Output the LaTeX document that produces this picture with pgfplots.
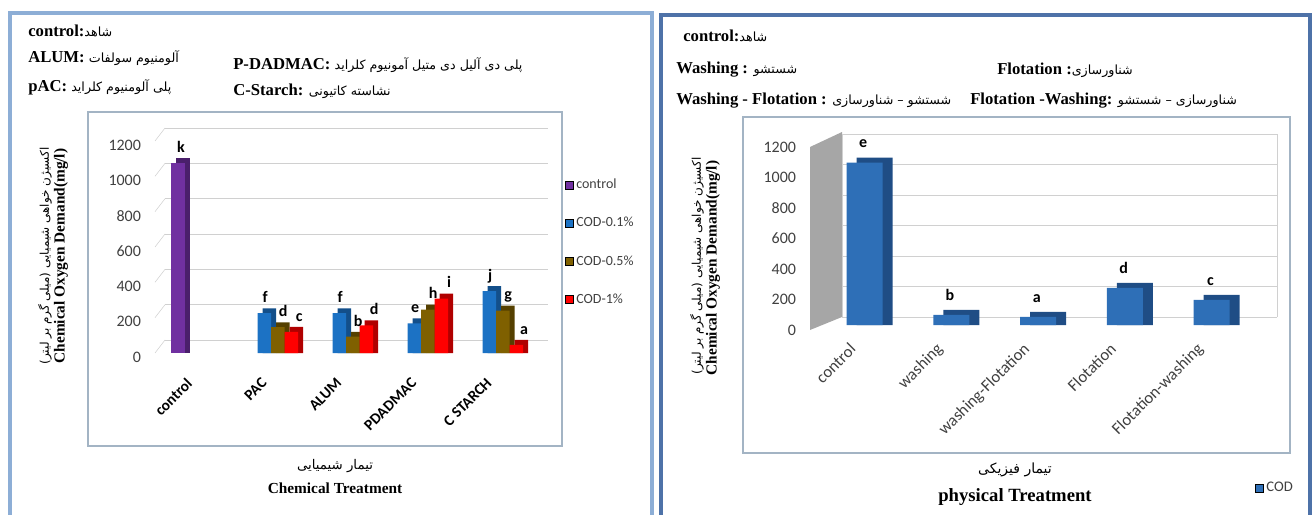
\documentclass[border=0pt]{standalone}
\usepackage{pgfplots}
\pgfplotsset{compat=1.18}
\usepackage{pgfplotstable}
\usepackage{fontspec}
\setmainfont{Liberation Serif}
\newfontfamily\calfont{Carlito}
\newfontfamily\farsi[Script=Arabic]{DejaVu Sans}
\TeXXeTstate=1
\newcommand{\FA}[1]{{\farsi\beginR #1\endR}}
\definecolor{cpur}{HTML}{7030A0}
\definecolor{cpurs}{HTML}{4A1F6B}
\definecolor{cblu}{HTML}{1C72C4}
\definecolor{cblus}{HTML}{134F8A}
\definecolor{cbrn}{HTML}{7F6000}
\definecolor{cbrns}{HTML}{554000}
\definecolor{cred}{HTML}{FF0000}
\definecolor{creds}{HTML}{B00000}
\definecolor{rblu}{HTML}{2E6FB7}
\definecolor{rblus}{HTML}{1F4D85}
\definecolor{frameL}{HTML}{8DAED6}
\definecolor{frameR}{HTML}{4E72A8}
\definecolor{boxc}{HTML}{A3B4C4}
\definecolor{gridc}{HTML}{D0D0D0}
\definecolor{wallc}{HTML}{A6A6A6}
\definecolor{txtg}{HTML}{404040}

\pgfplotstableread{
x v lab
0 1075 k
}\ctrl
\pgfplotstableread{
x v lab
1 225 f
2 225 f
3 168 e
4 350 j
}\codA
\pgfplotstableread{
x v lab
1 146 d
2 92 b
3 246 h
4 240 g
}\codB
\pgfplotstableread{
x v lab
1 120 c
2 156 d
3 308 i
4 46 a
}\codC
\pgfplotstableread{
x v lab
0 1065 e
1 66 b
2 53 a
3 244 d
4 165 c
}\phys

\pgfplotsset{
  /pgf/number format/1000 sep={},
  /pgf/number format/assume math mode=true,
}

\begin{document}
\begin{tikzpicture}[x=0.75pt,y=0.75pt]
\path[use as bounding box] (0,0) rectangle (1312,514);
% panel frames
\draw[frameL, line width=3.5pt] (10,-10) -- (10,501) -- (652,501) -- (652,-10);
\draw[frameR, line width=2.5pt] (661,-10) -- (661,499) -- (1310,499) -- (1310,-10);
% inner chart boxes
\draw[boxc, line width=0.8pt] (88,68) rectangle (562,402);
\draw[boxc, line width=0.8pt] (743,61) rectangle (1290,397);

% ---------- left chart ----------
\begin{axis}[
  at={(116.25pt,120.75pt)}, anchor=south west,
  scale only axis, width=287.25pt, height=159pt,
  xmin=-0.64, xmax=4.47, ymin=0, ymax=1200,
  ytick={0,200,400,600,800,1000,1200},
  xtick={0,1,2,3,4}, xticklabels={control,PAC,ALUM,PDADMAC,C STARCH},
  axis line style={draw=none}, major tick length=0pt,
  ymajorgrids, major grid style={gridc, xshift=7.5pt, yshift=9.75pt},
  yticklabel style={font=\calfont\fontsize{12}{12}\selectfont, text=txtg, xshift=-7pt, yshift=-3pt},
  xticklabel style={font=\calfont\bfseries\fontsize{11.5}{12}\selectfont, rotate=45, anchor=north east, xshift=-18.5pt, yshift=0pt},
  clip=false,
  bar width=10.125pt,
  point meta=explicit symbolic,
  every node near coord/.append style={font=\calfont\bfseries\fontsize{12}{12}\selectfont, anchor=base, inner sep=0pt, yshift=8pt},
  legend image code/.code={\fill[#1] (0pt,-3pt) rectangle (6pt,3pt);},
  legend style={at={(1.07,0.835)}, anchor=north west, draw=none, fill=none, inner sep=0pt,
     font=\calfont\fontsize{10.5}{12}\selectfont, text=txtg, row sep=16pt, cells={anchor=west}},
]
\pgfplotsinvokeforeach{0,200,400,600,800,1000,1200}{\draw[gridc] (axis cs:-0.64,#1) -- ++(7.5pt,9.75pt);}
\addplot[ybar, bar shift=-15pt, fill=cpurs, draw=none, forget plot] table[x=x, y expr=\thisrow{v}+28] {\ctrl};
\addplot[ybar, bar shift=-18.75pt, fill=cpur, draw=none, forget plot, nodes near coords,
  every node near coord/.append style={xshift=-16.5pt}] table[x=x, y=v, meta=lab] {\ctrl};
\addplot[ybar, bar shift=-6.375pt, fill=cblus, draw=none, forget plot] table[x=x, y expr=\thisrow{v}+28] {\codA};
\addplot[ybar, bar shift=-10.125pt, fill=cblu, draw=none, forget plot, nodes near coords,
  every node near coord/.append style={xshift=-9.5pt}] table[x=x, y=v, meta=lab] {\codA};
\addplot[ybar, bar shift=3.75pt, fill=cbrns, draw=none, forget plot] table[x=x, y expr=\thisrow{v}+28] {\codB};
\addplot[ybar, bar shift=0pt, fill=cbrn, draw=none, forget plot, nodes near coords,
  every node near coord/.append style={xshift=4pt}] table[x=x, y=v, meta=lab] {\codB};
\addplot[ybar, bar shift=13.875pt, fill=creds, draw=none, forget plot] table[x=x, y expr=\thisrow{v}+28] {\codC};
\addplot[ybar, bar shift=10.125pt, fill=cred, draw=none, forget plot, nodes near coords,
  every node near coord/.append style={xshift=16pt}] table[x=x, y=v, meta=lab] {\codC};
\addlegendimage{fill=cpur}\addlegendentry{control}
\addlegendimage{fill=cblu}\addlegendentry{COD-0.1\%}
\addlegendimage{fill=cbrn}\addlegendentry{COD-0.5\%}
\addlegendimage{fill=cred}\addlegendentry{COD-1\%}
\end{axis}

% ---------- right chart ----------
\begin{axis}[
  at={(607.5pt,141.75pt)}, anchor=south west,
  scale only axis, width=326.25pt, height=137.25pt,
  xmin=-0.628, xmax=4.384, ymin=0, ymax=1200,
  ytick={0,200,400,600,800,1000,1200},
  xtick={0,1,2,3,4}, xticklabels={control,washing,washing-Flotation,Flotation,Flotation-washing},
  axis line style={draw=none}, major tick length=0pt,
  ymajorgrids, major grid style={gridc, xshift=24pt, yshift=6pt},
  yticklabel style={font=\calfont\fontsize{12}{12}\selectfont, text=txtg, xshift=-7pt, yshift=-3.75pt},
  xticklabel style={font=\calfont\fontsize{12.5}{12}\selectfont, text=txtg, rotate=45, anchor=north east, xshift=-14pt, yshift=3pt},
  clip=false,
  bar width=27pt,
  point meta=explicit symbolic,
  every node near coord/.append style={font=\calfont\bfseries\fontsize{12}{12}\selectfont, anchor=base, inner sep=0pt, yshift=11pt, xshift=-1pt},
  legend image code/.code={\fill[#1] (0pt,-3pt) rectangle (6pt,3pt);},
  legend style={at={(1.023,-0.891)}, anchor=west, draw=none, fill=none, inner sep=0pt,
     font=\calfont\fontsize{11}{12}\selectfont, text=txtg},
]
\fill[wallc] ([yshift=-3.75pt]rel axis cs:0,0) -- ([yshift=-3.75pt]rel axis cs:0,1) -- ([xshift=24pt,yshift=7.5pt]rel axis cs:0,1) -- ([xshift=24pt,yshift=6pt]rel axis cs:0,0) -- cycle;
\draw[gridc] ([xshift=24pt,yshift=6pt]rel axis cs:1,0) -- ([xshift=24pt,yshift=6pt]rel axis cs:1,1);
\draw[gridc] ([xshift=24pt,yshift=6pt]rel axis cs:0,0) -- ([xshift=24pt,yshift=6pt]rel axis cs:0,1);
\addplot[ybar, bar shift=7.5pt, fill=rblus, draw=none, forget plot] table[x=x, y expr=\thisrow{v}+33] {\phys};
\addplot[ybar, bar shift=0pt, fill=rblu, draw=none, forget plot, nodes near coords] table[x=x, y=v, meta=lab] {\phys};
\addlegendimage{fill=rblu}\addlegendentry{COD}
\end{axis}

% ---------- texts ----------
\begin{scope}[font=\fontsize{12.5}{14}\selectfont]
\node[anchor=west, inner sep=0pt] at (28,483) {\textbf{control:}\FA{\fontsize{9.5}{11}\selectfont شاهد}};
\node[anchor=west, inner sep=0pt] at (28,456) {\textbf{ALUM:} \FA{\fontsize{9.5}{11}\selectfont آلومنیوم سولفات}};
\node[anchor=west, inner sep=0pt] at (28,427) {\textbf{pAC:} \FA{\fontsize{9.5}{11}\selectfont پلی آلومنیوم کلراید}};
\node[anchor=west, inner sep=0pt] at (233,449) {\textbf{P-DADMAC:} \FA{\fontsize{9.5}{11}\selectfont پلی دی آلیل دی متیل آمونیوم کلراید}};
\node[anchor=west, inner sep=0pt] at (233,423) {\textbf{C-Starch:} \FA{\fontsize{9.5}{11}\selectfont نشاسته کاتیونی}};
\node[anchor=west, inner sep=0pt] at (683,478) {\textbf{control:}\FA{\fontsize{9.5}{11}\selectfont شاهد}};
\node[anchor=west, inner sep=0pt] at (676,444) {\textbf{Washing :} \FA{\fontsize{9.5}{11}\selectfont شستشو}};
\node[anchor=west, inner sep=0pt] at (997,444) {\textbf{Flotation :}\FA{\fontsize{9.5}{11}\selectfont شناورسازی}};
\node[anchor=west, inner sep=0pt] at (676,413) {\textbf{Washing - Flotation :} \FA{\fontsize{9.5}{11}\selectfont شستشو – شناورسازی}};
\node[anchor=west, inner sep=0pt] at (970,413) {\textbf{Flotation -Washing:} \FA{\fontsize{9.5}{11}\selectfont شناورسازی – شستشو}};
\end{scope}
\node at (335,48) {\FA{\fontsize{10}{12}\selectfont تیمار شیمیایی}};
\node at (335,26) {\fontsize{11.5}{13}\selectfont\bfseries Chemical Treatment};
\node at (1015,44) {\FA{\fontsize{10.5}{12}\selectfont تیمار فیزیکی}};
\node at (1015,17) {\fontsize{14}{16}\selectfont\bfseries physical Treatment};
\node[rotate=90] at (45,258) {\FA{\fontsize{9}{10}\selectfont اکسیژن خواهی شیمیایی (میلی گرم بر لیتر)}};
\node[rotate=90] at (61,258) {\fontsize{11.5}{13}\selectfont\bfseries Chemical Oxygen Demand(mg/l)};
\node[rotate=90] at (697,248) {\FA{\fontsize{9}{10}\selectfont اکسیژن خواهی شیمیایی (میلی گرم بر لیتر)}};
\node[rotate=90] at (713,246) {\fontsize{11.5}{13}\selectfont\bfseries Chemical Oxygen Demand(mg/l)};
\end{tikzpicture}
\end{document}
